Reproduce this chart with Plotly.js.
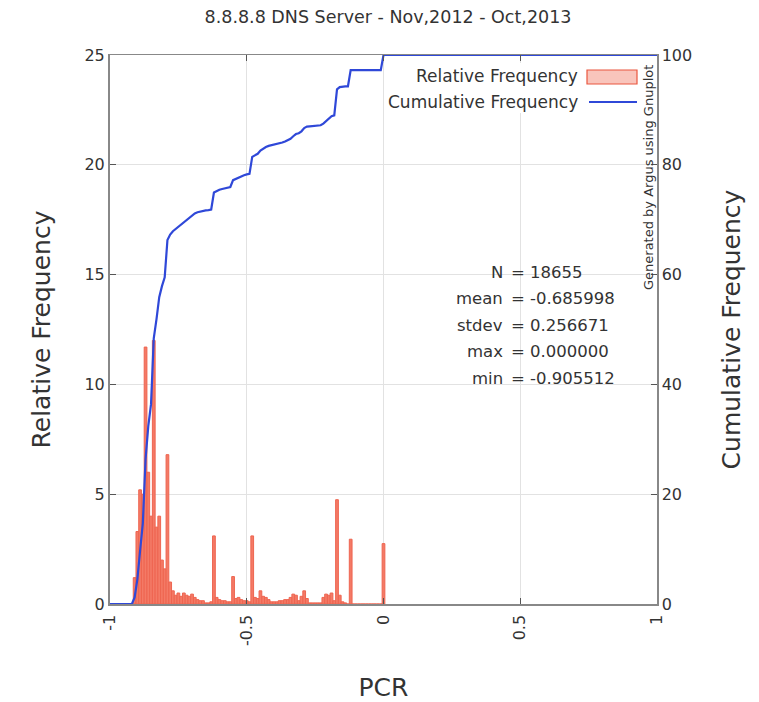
<!DOCTYPE html>
<html>
<head>
<meta charset="utf-8">
<script src="https://cdn.plot.ly/plotly-3.0.1.min.js"></script>
<style>html,body{margin:0;padding:0;background:#fff;}#chart{width:759px;height:702px;}</style>
</head>
<body>
<div id="chart"></div>
<script>
// ---- data ----
const binCenters = [-0.92, -0.91, -0.90, -0.89, -0.88, -0.87, -0.86, -0.85, -0.84, -0.83, -0.82, -0.81, -0.80, -0.79,
  -0.78, -0.77, -0.76, -0.75, -0.74, -0.73, -0.72, -0.71, -0.70, -0.69, -0.68, -0.67, -0.66, -0.65, -0.64, -0.63,
  -0.62, -0.61, -0.60, -0.59, -0.58, -0.57, -0.56, -0.55, -0.54, -0.53, -0.52, -0.51, -0.50, -0.49,
  -0.48, -0.47, -0.46, -0.45, -0.44, -0.43, -0.42, -0.41, -0.40, -0.39, -0.38, -0.37, -0.36, -0.35,
  -0.34, -0.33, -0.32, -0.31, -0.30, -0.29, -0.28, -0.27, -0.26, -0.25, -0.24, -0.23, -0.22, -0.21,
  -0.20, -0.19, -0.18, -0.17, -0.16, -0.15, -0.14, -0.13, -0.12, -0.11, -0.10, -0.09, -0.08, -0.07,
  -0.06, -0.05, -0.04, -0.03, -0.02, -0.01, 0.00];
const relFreq = [0, 1.2, 3.3, 5.2, 5.0, 11.7, 6.0, 4.0, 12.0, 3.5, 4.0, 2.0, 1.6, 6.8,
  1.0, 0.6, 0.4, 0.5, 0.35, 0.5, 0.4, 0.35, 0.45, 0.3, 0.2, 0.15, 0.15, 0.05, 0.05, 0.1,
  3.1, 0.3, 0.2, 0.15, 0.15, 0.1, 0.1, 1.25, 0.25, 0.3, 0.2, 0.15, 0.15, 0.1,
  3.1, 0.3, 0.25, 0.6, 0.35, 0.3, 0.2, 0.1, 0.1, 0.1, 0.15, 0.15, 0.2, 0.2,
  0.3, 0.45, 0.4, 0.15, 0.35, 0.6, 0.25, 0.05, 0.05, 0.05, 0.05, 0.05, 0.3, 0.45,
  0.4, 0.5, 0.15, 4.75, 0.4, 0.1, 0.05, 0.0, 2.95, 0, 0, 0, 0, 0,
  0, 0, 0, 0, 0, 0, 2.75];
const xRange = [-1, 1];
const xTickVals = [-1, -0.5, 0, 0.5, 1];
const xTickText = ['-1', '-0.5', '0', '0.5', '1'];
const yTickVals = [0, 5, 10, 15, 20, 25];
const y2TickVals = [0, 20, 40, 60, 80, 100];
const statLabels = ['N', 'mean', 'stdev', 'max', 'min'];
const statValues = ['18655', '-0.685998', '0.256671', '0.000000', '-0.905512'];
const titleText = '8.8.8.8 DNS Server - Nov,2012 - Oct,2013';
const seriesNames = ['Relative Frequency', 'Cumulative Frequency'];
const creditText = 'Generated by Argus using Gnuplot';

// cumulative frequency = running sum of the relative frequencies
const cumFreq = [];
relFreq.reduce((acc, v) => { const s = acc + v; cumFreq.push(s); return s; }, 0);
const cumX = [xRange[0]].concat(binCenters, [xRange[1]]);
const cumY = [0].concat(cumFreq, [cumFreq[cumFreq.length - 1]]);

// ---- layout helpers (pixel -> paper) ----
const L = 110, R = 657, T = 55, B = 604;
const PX = v => (v - L) / (R - L);
const PY = v => (B - v) / (B - T);

const FONT = 'DejaVu Sans, Verdana, sans-serif';
const TXT = '#333333';
const barFill = '#f47a66', barLine = '#ee6550', lineCol = '#2f48d8';

const traces = [
  {type: 'bar', x: binCenters, y: relFreq, name: seriesNames[0],
   marker: {color: barFill, line: {color: barLine, width: 1}}, yaxis: 'y', hoverinfo: 'x+y'},
  {type: 'scatter', mode: 'lines', x: cumX, y: cumY, name: seriesNames[1],
   line: {color: lineCol, width: 2.2}, yaxis: 'y2'}
];

const statY = [272, 298, 325, 351, 378];
const annotations = [];
statLabels.forEach((s, i) => {
  annotations.push({xref: 'paper', yref: 'paper', x: PX(505), y: PY(statY[i]), xanchor: 'right', yanchor: 'middle',
    text: s, showarrow: false, font: {family: FONT, size: 16.5, color: TXT}});
  annotations.push({xref: 'paper', yref: 'paper', x: PX(509), y: PY(statY[i]), xanchor: 'left', yanchor: 'middle',
    text: '= ' + statValues[i], showarrow: false, font: {family: FONT, size: 16.5, color: TXT}});
});
// custom legend (text left of symbol, as in gnuplot)
annotations.push({xref: 'paper', yref: 'paper', x: PX(580), y: PY(76), xanchor: 'right', yanchor: 'middle',
  text: seriesNames[0], showarrow: false, font: {family: FONT, size: 17, color: TXT}});
annotations.push({xref: 'paper', yref: 'paper', x: PX(580), y: PY(102), xanchor: 'right', yanchor: 'middle',
  text: seriesNames[1], showarrow: false, font: {family: FONT, size: 17, color: TXT}});
// credit
annotations.push({xref: 'paper', yref: 'paper', x: PX(648), y: PY(178), xanchor: 'center', yanchor: 'middle',
  text: creditText, textangle: -90, showarrow: false, font: {family: FONT, size: 13, color: TXT}});

const shapes = [
  {type: 'rect', xref: 'paper', yref: 'paper', x0: PX(388), x1: PX(644), y0: PY(113), y1: PY(63),
   fillcolor: '#ffffff', line: {width: 0}, layer: 'above'},
  {type: 'rect', xref: 'paper', yref: 'paper', x0: PX(587), x1: PX(637), y0: PY(84), y1: PY(70),
   fillcolor: '#f9c5bc', line: {color: '#e9563f', width: 1.2}, layer: 'above'},
  {type: 'line', xref: 'paper', yref: 'paper', x0: PX(589), x1: PX(637), y0: PY(102), y1: PY(102),
   line: {color: lineCol, width: 2.2}, layer: 'above'}
];

const layout = {
  width: 759, height: 702,
  margin: {l: L, r: 759 - R, t: T, b: 702 - B, pad: 0},
  paper_bgcolor: '#ffffff', plot_bgcolor: '#ffffff',
  font: {family: FONT, color: TXT, size: 16},
  title: {text: titleText, font: {family: FONT, size: 17.5, color: TXT},
          x: PX(388), xref: 'paper', xanchor: 'center', y: 1 - 17 / 702, yref: 'container', yanchor: 'middle'},
  showlegend: false,
  bargap: 0,
  xaxis: {range: xRange, tickmode: 'array', tickvals: xTickVals, ticktext: xTickText, tickangle: -90,
          ticks: 'inside', ticklen: 6, tickcolor: '#555', tickwidth: 1, ticklabelstandoff: 3,
          showline: true, linecolor: '#888', linewidth: 1.5, mirror: 'ticks',
          showgrid: true, gridcolor: '#e2e2e2', gridwidth: 1, zeroline: false,
          tickfont: {family: FONT, size: 16, color: TXT},
          title: {text: 'PCR', font: {family: FONT, size: 25, color: TXT}, standoff: 34}, automargin: false},
  yaxis: {range: [0, 25], tickmode: 'array', tickvals: yTickVals,
          ticks: 'inside', ticklen: 6, tickcolor: '#555', tickwidth: 1,
          showline: true, linecolor: '#888', linewidth: 2,
          showgrid: true, gridcolor: '#e2e2e2', gridwidth: 1, zeroline: false,
          tickfont: {family: FONT, size: 16, color: TXT},
          title: {text: 'Relative Frequency', font: {family: FONT, size: 25, color: TXT}, standoff: 27}, automargin: false},
  yaxis2: {range: [0, 100], tickmode: 'array', tickvals: y2TickVals, overlaying: 'y', side: 'right',
          ticks: 'inside', ticklen: 6, tickcolor: '#555', tickwidth: 1,
          showline: true, linecolor: '#888', linewidth: 1.5,
          showgrid: false, zeroline: false,
          tickfont: {family: FONT, size: 16, color: TXT},
          title: {text: 'Cumulative Frequency', font: {family: FONT, size: 25, color: TXT}, standoff: 31}, automargin: false},
  annotations: annotations,
  shapes: shapes
};

Plotly.newPlot('chart', traces, layout, {displayModeBar: false, staticPlot: true});
</script>
</body>
</html>
